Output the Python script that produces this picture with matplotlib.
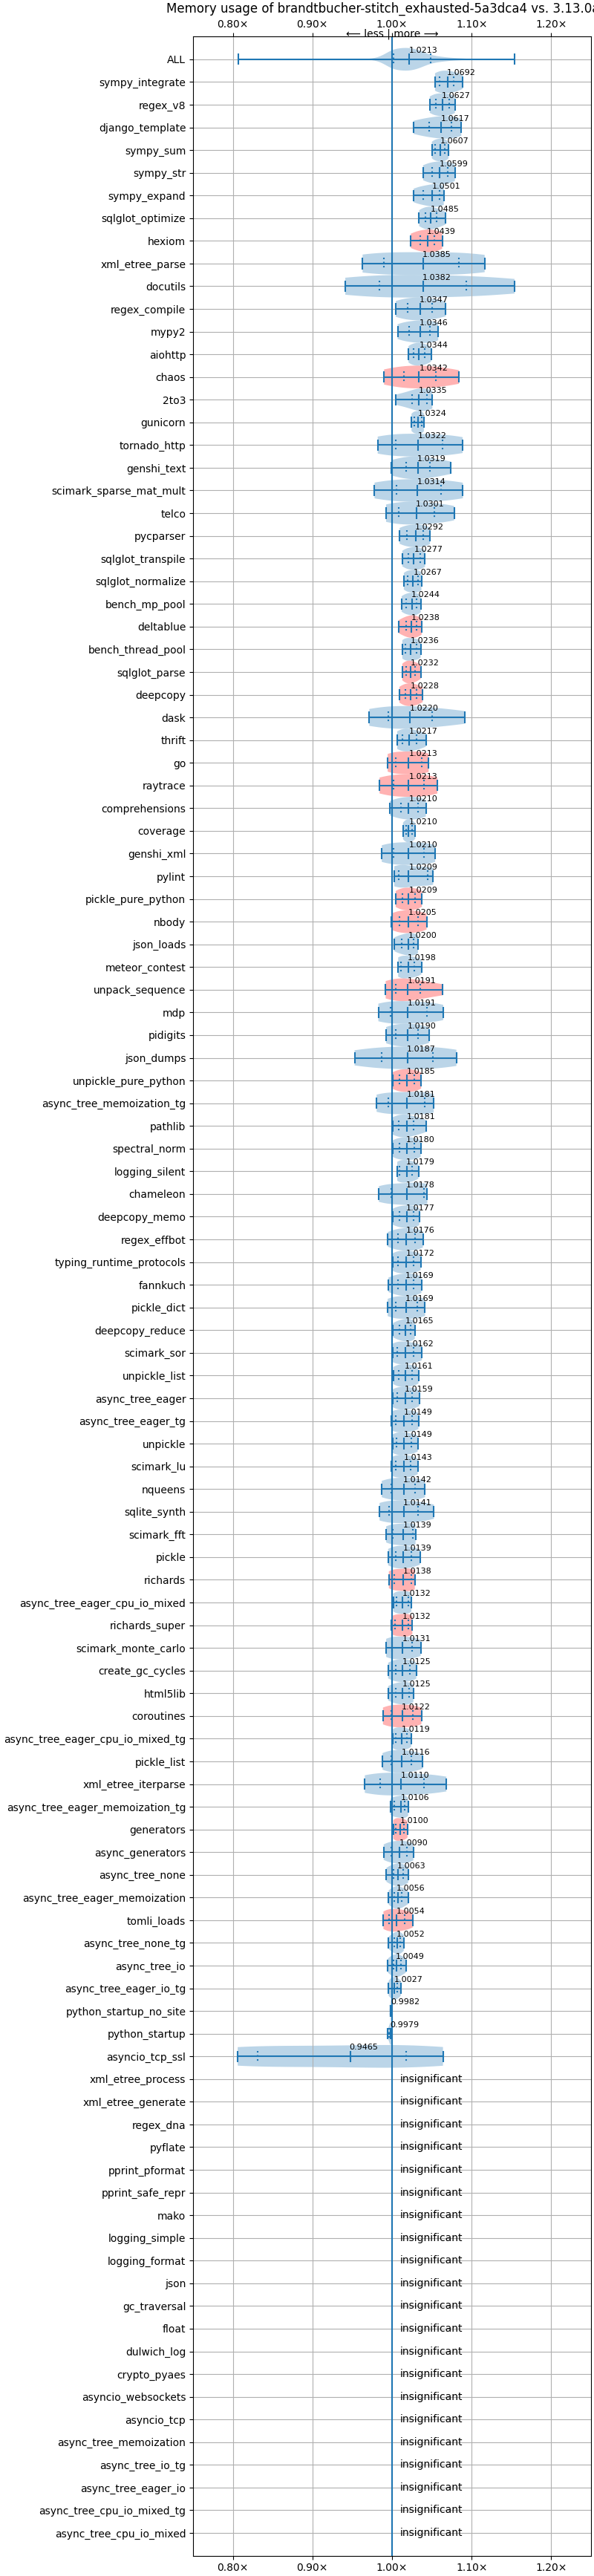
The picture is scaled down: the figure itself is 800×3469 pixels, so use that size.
import matplotlib
matplotlib.use("Agg")
import matplotlib.pyplot as plt
from matplotlib import cbook, mlab
from matplotlib.ticker import MultipleLocator, FuncFormatter

title = "Memory usage of brandtbucher-stitch_exhausted-5a3dca4 vs. 3.13.0a5+"

# benchmarks with a measured change, in plot order
names = [
    "ALL", "sympy_integrate", "regex_v8", "django_template", "sympy_sum",
    "sympy_str", "sympy_expand", "sqlglot_optimize", "hexiom", "xml_etree_parse",
    "docutils", "regex_compile", "mypy2", "aiohttp", "chaos",
    "2to3", "gunicorn", "tornado_http", "genshi_text", "scimark_sparse_mat_mult",
    "telco", "pycparser", "sqlglot_transpile", "sqlglot_normalize", "bench_mp_pool",
    "deltablue", "bench_thread_pool", "sqlglot_parse", "deepcopy", "dask",
    "thrift", "go", "raytrace", "comprehensions", "coverage",
    "genshi_xml", "pylint", "pickle_pure_python", "nbody", "json_loads",
    "meteor_contest", "unpack_sequence", "mdp", "pidigits", "json_dumps",
    "unpickle_pure_python", "async_tree_memoization_tg", "pathlib", "spectral_norm", "logging_silent",
    "chameleon", "deepcopy_memo", "regex_effbot", "typing_runtime_protocols", "fannkuch",
    "pickle_dict", "deepcopy_reduce", "scimark_sor", "unpickle_list", "async_tree_eager",
    "async_tree_eager_tg", "unpickle", "scimark_lu", "nqueens", "sqlite_synth",
    "scimark_fft", "pickle", "richards", "async_tree_eager_cpu_io_mixed", "richards_super",
    "scimark_monte_carlo", "create_gc_cycles", "html5lib", "coroutines", "async_tree_eager_cpu_io_mixed_tg",
    "pickle_list", "xml_etree_iterparse", "async_tree_eager_memoization_tg", "generators", "async_generators",
    "async_tree_none", "async_tree_eager_memoization", "tomli_loads", "async_tree_none_tg", "async_tree_io",
    "async_tree_eager_io_tg", "python_startup_no_site", "python_startup", "asyncio_tcp_ssl",
]

# benchmarks shown as "insignificant"
insignificant = [
    "xml_etree_process", "xml_etree_generate", "regex_dna", "pyflate", "pprint_pformat",
    "pprint_safe_repr", "mako", "logging_simple", "logging_format", "json",
    "gc_traversal", "float", "dulwich_log", "crypto_pyaes", "asyncio_websockets",
    "asyncio_tcp", "async_tree_memoization", "async_tree_io_tg", "async_tree_eager_io",
    "async_tree_cpu_io_mixed_tg", "async_tree_cpu_io_mixed",
]

means = [
    1.0213, 1.0692, 1.0627, 1.0617, 1.0607, 1.0599, 1.0501, 1.0485, 1.0439, 1.0385,
    1.0382, 1.0347, 1.0346, 1.0344, 1.0342, 1.0335, 1.0324, 1.0322, 1.0319, 1.0314,
    1.0301, 1.0292, 1.0277, 1.0267, 1.0244, 1.0238, 1.0236, 1.0232, 1.0228, 1.0220,
    1.0217, 1.0213, 1.0213, 1.0210, 1.0210, 1.0210, 1.0209, 1.0209, 1.0205, 1.0200,
    1.0198, 1.0191, 1.0191, 1.0190, 1.0187, 1.0185, 1.0181, 1.0181, 1.0180, 1.0179,
    1.0178, 1.0177, 1.0176, 1.0172, 1.0169, 1.0169, 1.0165, 1.0162, 1.0161, 1.0159,
    1.0149, 1.0149, 1.0143, 1.0142, 1.0141, 1.0139, 1.0139, 1.0138, 1.0132, 1.0132,
    1.0131, 1.0125, 1.0125, 1.0122, 1.0119, 1.0116, 1.0110, 1.0106, 1.0100, 1.0090,
    1.0063, 1.0056, 1.0054, 1.0052, 1.0049, 1.0027, 0.9982, 0.9979, 0.9465,
]

# five-number readings of each distribution: min, lower quartile, median, upper quartile, max
lows = [
    0.8066, 1.0540, 1.0474, 1.0270, 1.0500, 1.0390, 1.0270, 1.0340, 1.0235, 0.9630,
    0.9413, 1.0047, 1.0070, 1.0207, 0.9900, 1.0050, 1.0244, 0.9820, 0.9995, 0.9780,
    0.9925, 1.0095, 1.0129, 1.0148, 1.0120, 1.0083, 1.0129, 1.0129, 1.0092, 0.9714,
    1.0065, 0.9945, 0.9843, 0.9972, 1.0138, 0.9871, 1.0028, 1.0046, 0.9994, 1.0028,
    1.0077, 0.9920, 0.9828, 0.9926, 0.9529, 1.0006, 0.9806, 1.0006, 1.0006, 1.0065,
    0.9834, 1.0006, 0.9945, 1.0006, 0.9954, 0.9945, 1.0012, 1.0006, 1.0015, 1.0006,
    0.9991, 1.0006, 0.9991, 0.9871, 0.9843, 0.9926, 0.9951, 0.9960, 1.0015, 0.9991,
    0.9926, 0.9951, 0.9951, 0.9886, 1.0006, 0.9880, 0.9658, 0.9982, 1.0015, 0.9895,
    0.9929, 0.9957, 0.9892, 0.9957, 0.9948, 0.9957, 0.9978, 0.9940, 0.8061,
]
q_low = [
    1.0023, 1.0600, 1.0550, 1.0465, 1.0545, 1.0500, 1.0390, 1.0420, 1.0350, 0.9900,
    0.9840, 1.0200, 1.0210, 1.0270, 1.0146, 1.0250, 1.0277, 1.0047, 1.0180, 1.0060,
    1.0085, 1.0188, 1.0203, 1.0197, 1.0180, 1.0180, 1.0166, 1.0180, 1.0166, 0.9957,
    1.0126, 1.0043, 1.0022, 1.0108, 1.0175, 1.0022, 1.0083, 1.0126, 1.0095, 1.0120,
    1.0108, 1.0043, 0.9982, 1.0049, 0.9871, 1.0089, 0.9951, 1.0083, 1.0089, 1.0095,
    0.9991, 1.0089, 1.0074, 1.0077, 1.0074, 1.0043, 1.0095, 1.0065, 1.0083, 1.0068,
    1.0046, 1.0058, 1.0046, 0.9994, 0.9966, 1.0012, 1.0043, 1.0028, 1.0058, 1.0037,
    0.9997, 1.0043, 1.0046, 0.9991, 1.0043, 0.9991, 0.9852, 1.0028, 1.0043, 0.9991,
    1.0015, 1.0030, 0.9960, 1.0025, 1.0018, 1.0000, 0.9980, 0.9965, 0.8313,
]
medians = [
    1.0216, 1.0700, 1.0630, 1.0620, 1.0610, 1.0600, 1.0500, 1.0485, 1.0446, 1.0390,
    1.0390, 1.0350, 1.0350, 1.0340, 1.0340, 1.0333, 1.0324, 1.0324, 1.0324, 1.0320,
    1.0310, 1.0295, 1.0274, 1.0265, 1.0250, 1.0240, 1.0237, 1.0230, 1.0230, 1.0222,
    1.0218, 1.0209, 1.0209, 1.0209, 1.0209, 1.0209, 1.0209, 1.0209, 1.0209, 1.0203,
    1.0203, 1.0194, 1.0194, 1.0194, 1.0194, 1.0185, 1.0185, 1.0185, 1.0185, 1.0185,
    1.0185, 1.0185, 1.0175, 1.0175, 1.0175, 1.0175, 1.0166, 1.0166, 1.0166, 1.0166,
    1.0148, 1.0148, 1.0148, 1.0148, 1.0148, 1.0138, 1.0138, 1.0138, 1.0132, 1.0132,
    1.0132, 1.0126, 1.0126, 1.0126, 1.0117, 1.0117, 1.0108, 1.0108, 1.0098, 1.0089,
    1.0071, 1.0071, 1.0055, 1.0062, 1.0055, 1.0031, 0.9982, 0.9979, 0.9477,
]
q_high = [
    1.0484, 1.0775, 1.0720, 1.0750, 1.0660, 1.0700, 1.0600, 1.0560, 1.0535, 1.0840,
    1.0930, 1.0500, 1.0480, 1.0410, 1.0550, 1.0437, 1.0370, 1.0630, 1.0480, 1.0615,
    1.0530, 1.0388, 1.0350, 1.0326, 1.0305, 1.0305, 1.0305, 1.0290, 1.0305, 1.0508,
    1.0305, 1.0369, 1.0397, 1.0329, 1.0255, 1.0397, 1.0452, 1.0292, 1.0323, 1.0274,
    1.0283, 1.0350, 1.0434, 1.0323, 1.0511, 1.0280, 1.0406, 1.0274, 1.0280, 1.0249,
    1.0397, 1.0268, 1.0290, 1.0274, 1.0274, 1.0314, 1.0237, 1.0274, 1.0255, 1.0255,
    1.0249, 1.0243, 1.0234, 1.0286, 1.0323, 1.0258, 1.0243, 1.0243, 1.0203, 1.0203,
    1.0249, 1.0222, 1.0212, 1.0258, 1.0182, 1.0243, 1.0403, 1.0160, 1.0151, 1.0182,
    1.0139, 1.0123, 1.0154, 1.0102, 1.0108, 1.0068, 0.9984, 0.9985, 1.0179,
]
highs = [
    1.1540, 1.0890, 1.0790, 1.0870, 1.0710, 1.0790, 1.0650, 1.0676, 1.0630, 1.1164,
    1.1540, 1.0676, 1.0580, 1.0490, 1.0840, 1.0507, 1.0400, 1.0887, 1.0737, 1.0890,
    1.0780, 1.0477, 1.0415, 1.0369, 1.0360, 1.0372, 1.0360, 1.0360, 1.0385, 1.0910,
    1.0425, 1.0460, 1.0569, 1.0425, 1.0292, 1.0542, 1.0517, 1.0375, 1.0434, 1.0326,
    1.0369, 1.0637, 1.0643, 1.0468, 1.0809, 1.0366, 1.0523, 1.0425, 1.0360, 1.0332,
    1.0443, 1.0342, 1.0388, 1.0360, 1.0369, 1.0415, 1.0286, 1.0375, 1.0332, 1.0342,
    1.0332, 1.0323, 1.0323, 1.0415, 1.0526, 1.0295, 1.0351, 1.0286, 1.0243, 1.0255,
    1.0360, 1.0305, 1.0268, 1.0369, 1.0240, 1.0385, 1.0683, 1.0203, 1.0194, 1.0268,
    1.0203, 1.0203, 1.0259, 1.0148, 1.0179, 1.0111, 0.9986, 0.9992, 1.0640,
]

# benchmarks whose violin is filled red
red_names = [
    "hexiom", "chaos", "deltablue", "sqlglot_parse", "deepcopy", "go", "raytrace",
    "pickle_pure_python", "nbody", "unpack_sequence", "unpickle_pure_python",
    "richards", "richards_super", "coroutines", "generators", "tomli_loads",
]


def kde(data, coords):
    return mlab.GaussianKDE(data, "scott").evaluate(coords)


def main():
    n_sig = len(names)
    all_names = names + insignificant
    n_all = len(all_names)

    fig, ax = plt.subplots(figsize=(8, 34.69), dpi=100)
    fig.subplots_adjust(left=0.325, right=0.995, top=0.9858, bottom=0.0079)

    samples = [[lows[i], q_low[i], medians[i], q_high[i], highs[i]] for i in range(n_sig)]
    # ALL is the pooled distribution of every benchmark
    samples[0] = [v for s in samples[1:] for v in s]
    stats = cbook.violin_stats(samples, kde, quantiles=[[0.25, 0.75]] * n_sig)
    stats[0].update(min=lows[0], max=highs[0], median=medians[0],
                    quantiles=[q_low[0], q_high[0]])

    parts = ax.violin(stats, positions=list(range(n_sig)), orientation="horizontal",
                      widths=1.0, showextrema=True, showmedians=True)
    for body, name in zip(parts["bodies"], names):
        if name in red_names:
            body.set_facecolor("red")
        body.set_alpha(0.3)
    parts["cquantiles"].set_linestyle(":")

    ax.axvline(1.0)

    for i in range(n_sig):
        ax.text(means[i], i - 0.39, f"{means[i]:.4f}", fontsize=8, va="center")
    for j in range(len(insignificant)):
        ax.text(1.01, n_sig + j, "insignificant", fontsize=10, va="center")

    ax.set_yticks(range(n_all), all_names)
    ax.set_ylim(n_all, -1)
    ax.set_xlim(0.75, 1.25)
    ax.xaxis.set_major_locator(MultipleLocator(0.1))
    ax.xaxis.set_major_formatter(FuncFormatter(lambda x, pos: f"{x:.2f}×"))
    ax.tick_params(axis="x", top=True, labeltop=True)
    ax.grid(True)

    ax.set_title(title)
    ax.text(0.5, 1.0, "⟵ less | more ⟶", transform=ax.transAxes,
            ha="center", va="baseline")

    fig.savefig("out.png", dpi=100)


if __name__ == "__main__":
    main()
